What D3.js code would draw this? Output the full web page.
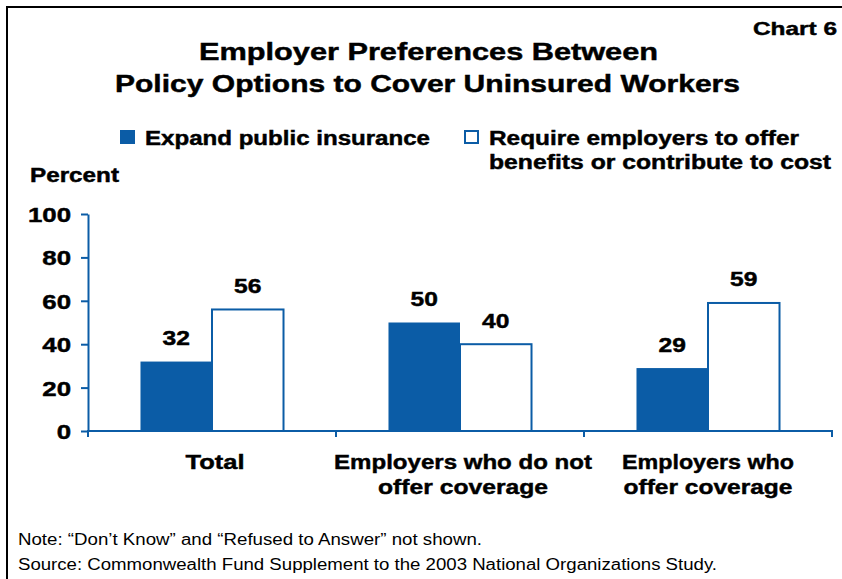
<!DOCTYPE html>
<html>
<head>
<meta charset="utf-8">
<script src="https://cdn.jsdelivr.net/npm/d3@7"></script>
<style>
  body { margin: 0; background: #fff; }
  svg { display: block; font-family: "Liberation Sans", Arial, sans-serif; }
  text.heavy { stroke: #000; stroke-width: 0.45px; }
</style>
</head>
<body>
<div id="chart"></div>
<script>
// chart data
const categories = ["Total", "Employers who do not offer coverage", "Employers who offer coverage"];
const categoryLines = [["Total"], ["Employers who do not", "offer coverage"], ["Employers who", "offer coverage"]];
const seriesKeys = ["public", "require"];
const seriesNames = ["Expand public insurance", "Require employers to offer benefits or contribute to cost"];
const publicValues = [32, 50, 29];
const requireValues = [56, 40, 59];
const yTicks = [0, 20, 40, 60, 80, 100];

const blue = "#0b5ca6";
const W = 842, H = 579;

const svg = d3.select("#chart").append("svg")
    .attr("width", W)
    .attr("height", H);

// frame of the slide
svg.append("path")
    .attr("d", "M7,579 L7,7 L842,7")
    .attr("fill", "none")
    .attr("stroke", "#000")
    .attr("stroke-width", 2);

// the source image is stretched sideways, so fit each text to its width
function fit(sel, w) {
    sel.attr("textLength", w).attr("lengthAdjust", "spacingAndGlyphs");
}
function stretch(sel, k) {
    sel.each(function () {
        const t = d3.select(this);
        t.attr("textLength", this.getComputedTextLength() * k)
         .attr("lengthAdjust", "spacingAndGlyphs");
    });
}

// titles
svg.append("text").attr("class", "heavy").attr("x", 837).attr("y", 35)
    .attr("text-anchor", "end").attr("font-weight", "bold").attr("font-size", 18.5)
    .text("Chart 6").call(fit, 84);

svg.append("text").attr("class", "heavy").attr("x", 428.5).attr("y", 60)
    .attr("text-anchor", "middle").attr("font-weight", "bold").attr("font-size", 24)
    .text("Employer Preferences Between").call(fit, 459);
svg.append("text").attr("class", "heavy").attr("x", 427.5).attr("y", 91.5)
    .attr("text-anchor", "middle").attr("font-weight", "bold").attr("font-size", 24)
    .text("Policy Options to Cover Uninsured Workers").call(fit, 625);

// legend
const legend = svg.append("g").attr("font-weight", "bold").attr("font-size", 20);
legend.append("rect").attr("x", 120).attr("y", 130).attr("width", 15).attr("height", 14)
    .attr("fill", blue);
legend.append("text").attr("class", "heavy").attr("x", 145).attr("y", 144.5).text(seriesNames[0]).call(fit, 285);
legend.append("rect").attr("x", 465).attr("y", 131).attr("width", 13).attr("height", 12)
    .attr("fill", "#fff").attr("stroke", blue).attr("stroke-width", 2);
legend.append("text").attr("class", "heavy").attr("x", 489).attr("y", 144.5).text("Require employers to offer").call(fit, 310);
legend.append("text").attr("class", "heavy").attr("x", 489).attr("y", 169).text("benefits or contribute to cost").call(fit, 342);

// y label
svg.append("text").attr("class", "heavy").attr("x", 30).attr("y", 181.5)
    .attr("font-weight", "bold").attr("font-size", 19.5)
    .text("Percent").call(fit, 89);

// scales
const x0 = d3.scaleBand().domain(categories).range([88, 832]).paddingInner(0).paddingOuter(0);
const x1 = d3.scaleBand().domain(seriesKeys).range([0, x0.bandwidth()]).paddingInner(0).paddingOuter(0.734);
const y = d3.scaleLinear().domain([0, 100]).range([431, 214]);

const rows = categories.map((c, i) => ({ cat: c, lines: categoryLines[i], public: publicValues[i], require: requireValues[i] }));

// bars
const groups = svg.append("g").selectAll("g").data(rows).join("g")
    .attr("transform", d => `translate(${x0(d.cat)},0)`);

groups.selectAll("rect").data(d => seriesKeys.map(k => ({ key: k, value: d[k] }))).join("rect")
    .attr("x", d => x1(d.key))
    .attr("y", d => y(d.value))
    .attr("width", x1.bandwidth())
    .attr("height", d => y(0) - y(d.value))
    .attr("fill", d => d.key === "public" ? blue : "#fff")
    .attr("stroke", blue)
    .attr("stroke-width", d => d.key === "public" ? 0 : 2);

groups.selectAll("text.val").data(d => seriesKeys.map(k => ({ key: k, value: d[k] }))).join("text")
    .attr("class", "val heavy")
    .attr("x", d => x1(d.key) + x1.bandwidth() / 2)
    .attr("y", d => y(d.value) - 16.5)
    .attr("text-anchor", "middle")
    .attr("font-weight", "bold").attr("font-size", 20)
    .text(d => d.value)
    .call(stretch, 1.23);

// y axis
const yAxis = svg.append("g").attr("transform", "translate(88,0)")
    .call(d3.axisLeft(y).tickValues(yTicks).tickSize(7).tickSizeOuter(0).tickPadding(10));
yAxis.select(".domain").attr("stroke", blue).attr("stroke-width", 2);
yAxis.selectAll(".tick line").attr("stroke", blue).attr("stroke-width", 2);
yAxis.selectAll(".tick text")
    .attr("class", "heavy")
    .attr("fill", "#000").attr("font-family", null).attr("font-size", 21).attr("font-weight", "bold")
    .attr("dy", "0.36em")
    .call(stretch, 1.23);

// x axis: boundaries between categories carry the ticks
const bounds = categories.map(c => x0(c)).concat([x0.range()[1]]);
const xAxis = svg.append("g").attr("transform", `translate(0,${y(0)})`);
xAxis.append("line")
    .attr("x1", x0.range()[0] - 1).attr("x2", x0.range()[1] + 1)
    .attr("stroke", blue).attr("stroke-width", 2);
xAxis.selectAll("line.tk").data(bounds).join("line")
    .attr("class", "tk")
    .attr("x1", d => d).attr("x2", d => d)
    .attr("y1", 0).attr("y2", 6)
    .attr("stroke", blue).attr("stroke-width", 2);

// category labels
const lineWidths = [[59], [258, 170], [172, 169]];
rows.forEach((r, i) => {
    r.lines.forEach((ln, j) => {
        svg.append("text")
            .attr("class", "heavy")
            .attr("x", x0(r.cat) + x0.bandwidth() / 2 + (i === 2 ? 0 : 3))
            .attr("y", 469 + j * 25)
            .attr("text-anchor", "middle")
            .attr("font-weight", "bold").attr("font-size", 21)
            .text(ln)
            .call(fit, lineWidths[i][j]);
    });
});

// notes
svg.append("text").attr("x", 18).attr("y", 545).attr("font-size", 16)
    .text("Note: \u201cDon\u2019t Know\u201d and \u201cRefused to Answer\u201d not shown.").call(fit, 464);
svg.append("text").attr("x", 18).attr("y", 570).attr("font-size", 16)
    .text("Source: Commonwealth Fund Supplement to the 2003 National Organizations Study.").call(fit, 699);
</script>
</body>
</html>
